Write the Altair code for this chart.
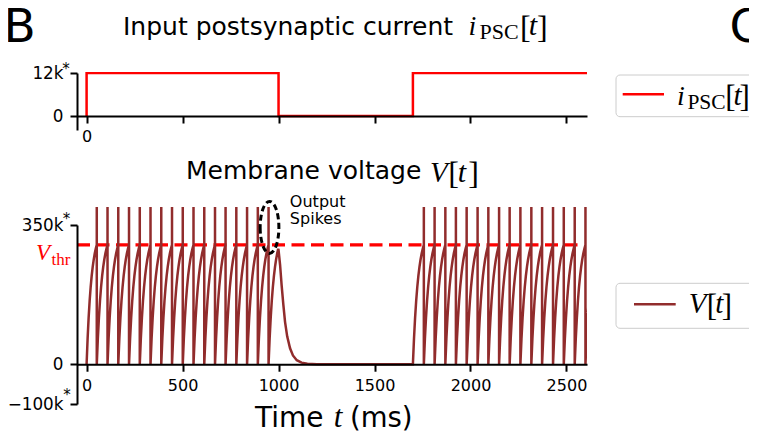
import altair as alt
import pandas as pd

# ---------------- values ----------------
time_domain = [-50, 2607]
x_ticks = [0, 500, 1000, 1500, 2000, 2500]

# input postsynaptic current (step input)
psc_t = [0, 0, 1000, 1000, 1700, 1700, 2607]
psc_i = [0, 12000, 12000, 0, 0, 12000, 12000]
psc_ticks = [0, 12000]
psc_domain = [-3900, 12000]

# membrane voltage: burst onsets and spike times (ms)
burst_onsets = [0, 1700]
burst_spikes = [
    [53, 109, 165, 221, 277, 333, 389, 445, 501, 557, 613, 669, 724, 780, 836, 892, 948],
    [1757, 1813, 1869, 1924, 1980, 2037, 2093, 2149, 2204, 2260, 2317, 2373, 2430, 2486, 2543, 2599],
]
isi_ms = 56
# shape of one charging segment (fraction of interval, fraction of V_thr)
rise_s = [0.0, 0.1, 0.2, 0.3, 0.4, 0.5, 0.6, 0.7, 0.8, 0.9, 1.0]
rise_frac = [0.0, 0.215, 0.39, 0.532, 0.647, 0.74, 0.816, 0.877, 0.927, 0.967, 1.0]
input_off_t = 1000
input_off_v = 287000
decay_t = [1008, 1016, 1025, 1034, 1045, 1060, 1075, 1095, 1120, 1150, 1200]
decay_v = [250000, 199000, 150000, 106000, 70000, 40000, 22000, 10000, 4000, 1000, 0]
v_thr = 300000
v_thr_span = [-50, 2574]
v_peak = 395000
v_ticks = [-100000, 0, 350000]
v_domain = [-100000, 350000]

# annotation ellipse around the last spikes, and its label
ell_t, ell_v = [953], [344000]
note_t, note_v = [1059], [396000]
note_text = ["Output\nSpikes"]

# ---------------- build voltage trace ----------------
vt, vv = [], []


def seg(start, end):
    for s, f in zip(rise_s, rise_frac):
        vt.append(start + s * (end - start))
        vv.append(f * v_thr)


for b, (onset, spikes) in enumerate(zip(burst_onsets, burst_spikes)):
    start = onset
    for sp in spikes:
        seg(start, sp)
        vt.extend([sp, sp])
        vv.extend([v_peak, 0])
        start = sp
    if b == 0:
        for s, f in zip(rise_s, rise_frac):
            t = start + s * isi_ms
            if t < input_off_t:
                vt.append(t)
                vv.append(f * v_thr)
        vt.append(input_off_t)
        vv.append(input_off_v)
        vt.extend(decay_t)
        vv.extend(decay_v)
    else:
        seg(start, start + isi_ms)

volt = pd.DataFrame({"t": vt, "v": vv, "k": list(range(len(vt)))})
psc = pd.DataFrame({"t": psc_t, "i": psc_i, "k": list(range(len(psc_t)))})

# ---------------- layout ----------------
W, H = 510, 332
OX, OY = 77, 72  # page position of plot origin (8px page margin included)
TOP_RANGE = [58, 1]
BOT_RANGE = [332, 153]


def y_px(val, dom, rng):
    return rng[0] + (val - dom[0]) / (dom[1] - dom[0]) * (rng[1] - rng[0])


off_top = -(H - y_px(0, psc_domain, TOP_RANGE))
off_bot = -(H - y_px(0, v_domain, BOT_RANGE))

XS = alt.Scale(domain=time_domain, nice=False, zero=False)
YT = alt.Scale(domain=psc_domain, range=TOP_RANGE, nice=False, zero=False)
YB = alt.Scale(domain=v_domain, range=BOT_RANGE, nice=False, zero=False)

SANS = "DejaVu Sans"
SERIF = "Liberation Serif"
BROWN = "#912c2c"
RED = "#ff0000"

AX = dict(domainColor="black", domainWidth=2, tickColor="black", tickWidth=2,
          tickSize=7, labelFont=SANS, labelColor="black",
          grid=False, title=None, zindex=1, labelOverlap=False)

one = pd.DataFrame({"a": [0]})


def txt(s, px, py, size, font=SANS, style="normal", color="black", align="left"):
    return alt.Chart(one).mark_text(
        text=s, font=font, fontSize=size, fontStyle=style, color=color,
        align=align, baseline="alphabetic"
    ).encode(x=alt.value(px - OX), y=alt.value(py - OY))


layers = []

# threshold
layers.append(
    alt.Chart(pd.DataFrame({"v": [v_thr], "x0": [v_thr_span[0]], "x1": [v_thr_span[1]]})).mark_rule(
        color=RED, strokeWidth=3.3, strokeDash=[13, 6.5]
    ).encode(
        x=alt.X("x0:Q", scale=XS, axis=None), x2="x1:Q",
        y=alt.Y("v:Q", scale=YB, axis=None),
    )
)

# voltage
layers.append(
    alt.Chart(volt).mark_line(color=BROWN, strokeWidth=2.5, clip=True).encode(
        x=alt.X("t:Q", scale=XS, axis=alt.Axis(
            orient="bottom", offset=off_bot, values=x_ticks, labelPadding=6,
            labelFlush=False, format="d", labelFontSize=16, **AX)),
        y=alt.Y("v:Q", scale=YB, axis=alt.Axis(
            orient="left", values=v_ticks, labelPadding=7, labelFontSize=16.8,
            labelExpr="datum.value == 350000 ? '350k' : (datum.value == 0 ? '0' : '\u2212100k')",
            **AX)),
        order=alt.Order("k:Q"),
    )
)

# input current
layers.append(
    alt.Chart(psc).mark_line(color=RED, strokeWidth=2.5, clip=True).encode(
        x=alt.X("t:Q", scale=XS, axis=alt.Axis(
            orient="bottom", offset=off_top, values=x_ticks, labelPadding=5,
            labelFlush=False, labelFontSize=16,
            labelExpr="datum.value == 0 ? '0' : ''", **AX)),
        y=alt.Y("i:Q", scale=YT, axis=alt.Axis(
            orient="left", values=psc_ticks, labelPadding=7, labelFontSize=16.8,
            labelExpr="datum.value == 0 ? '0' : '12k'", **AX)),
        order=alt.Order("k:Q"),
    )
)

# dashed ellipse
ELLIPSE = "M -0.36 0 A 0.36 1 0 1 0 0.36 0 A 0.36 1 0 1 0 -0.36 0 Z"
layers.append(
    alt.Chart(pd.DataFrame({"t": ell_t, "v": ell_v})).mark_point(
        shape=ELLIPSE, size=2704, filled=False, color="black", strokeWidth=3,
        strokeDash=[6, 3.5], opacity=1
    ).encode(
        x=alt.X("t:Q", scale=XS, axis=None),
        y=alt.Y("v:Q", scale=YB, axis=None),
    )
)

layers.append(
    alt.Chart(pd.DataFrame({"t": note_t, "v": note_v, "s": note_text})).mark_text(
        align="left", baseline="alphabetic", font=SANS, fontSize=16,
        lineHeight=17.5, lineBreak="\n", color="black"
    ).encode(
        x=alt.X("t:Q", scale=XS, axis=None),
        y=alt.Y("v:Q", scale=YB, axis=None),
        text="s:N",
    )
)

# asterisks on the k-labels
layers += [
    txt("*", 66.5, 224, 15, align="center"),
    txt("*", 66, 74, 15, align="center"),
    txt("*", 67, 400, 15, align="center"),
]

# V_thr label
layers += [
    txt("V", 43, 260, 23, font=SERIF, style="italic", color=RED, align="center"),
    txt("thr", 61, 265, 17, font=SERIF, color=RED, align="center"),
]

# titles
layers += [
    txt("Input postsynaptic current", 123, 35, 25),
    txt("i", 472.5, 35, 28, font=SERIF, style="italic", align="center"),
    txt("PSC", 499, 39, 22, font=SERIF, align="center"),
    txt("[", 525.3, 37.5, 32, font=SERIF, align="center"),
    txt("t", 533, 35, 30, font=SERIF, style="italic", align="center"),
    txt("]", 542.3, 37.5, 32, font=SERIF, align="center"),
    txt("Membrane voltage", 186, 178.5, 25),
    txt("V", 438.8, 181.7, 29, font=SERIF, style="italic", align="center"),
    txt("[", 453.5, 184, 32, font=SERIF, align="center"),
    txt("t", 462, 181.7, 30, font=SERIF, style="italic", align="center"),
    txt("]", 473.7, 184, 32, font=SERIF, align="center"),
    # x-axis title
    txt("Time", 255, 427, 28),
    txt("t", 338, 427, 31, font=SERIF, style="italic", align="center"),
    txt("(ms)", 350, 427, 27.5),
    # panel letters
    txt("B", 3.5, 42, 47),
    txt("C", 729.5, 42, 47),
]

# legends
for (y0, y1) in [(75, 116.7), (283.3, 328.3)]:
    layers.append(
        alt.Chart(one).mark_rect(
            fill="white", stroke="#cccccc", strokeWidth=1, cornerRadius=4
        ).encode(x=alt.value(616 - OX), x2=alt.value(790 - OX),
                 y=alt.value(y0 - OY), y2=alt.value(y1 - OY))
    )
layers += [
    alt.Chart(one).mark_rule(color=RED, strokeWidth=2.5).encode(
        x=alt.value(622.7 - OX), x2=alt.value(664 - OX), y=alt.value(94.3 - OY)),
    alt.Chart(one).mark_rule(color=BROWN, strokeWidth=2.5).encode(
        x=alt.value(634 - OX), x2=alt.value(675.7 - OX), y=alt.value(304.3 - OY)),
    txt("i", 680.8, 105, 28, font=SERIF, style="italic", align="center"),
    txt("PSC", 706.5, 109.3, 21.5, font=SERIF, align="center"),
    txt("[", 730.4, 107, 31, font=SERIF, align="center"),
    txt("t", 737.6, 105, 29, font=SERIF, style="italic", align="center"),
    txt("]", 744.6, 107, 31, font=SERIF, align="center"),
    txt("V", 697.5, 313.3, 29, font=SERIF, style="italic", align="center"),
    txt("[", 711.8, 315.5, 31, font=SERIF, align="center"),
    txt("t", 719.2, 313.3, 29, font=SERIF, style="italic", align="center"),
    txt("]", 726.8, 315.5, 31, font=SERIF, align="center"),
]

chart = alt.layer(*layers).resolve_scale(
    x="independent", y="independent"
).properties(
    width=W, height=H,
    autosize=alt.AutoSizeParams(type="none"),
    padding={"left": 69, "top": 64, "right": 162, "bottom": 31},
).configure_view(stroke=None)

chart.save("out.html", embed_options={"renderer": "svg", "actions": False})
